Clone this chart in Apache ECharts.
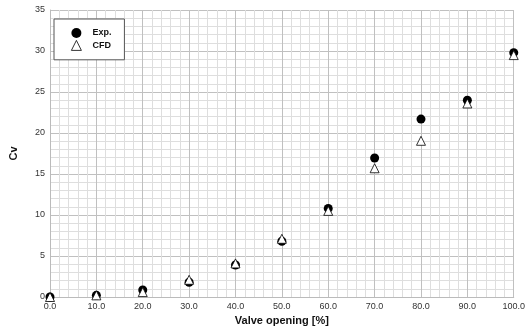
<!DOCTYPE html>
<html>
<head>
<meta charset="utf-8">
<script src="https://cdn.jsdelivr.net/npm/echarts@6/dist/echarts.min.js"></script>
<style>
  html, body { margin: 0; padding: 0; background: #fff; }
  #chart { width: 528px; height: 336px; }
</style>
</head>
<body>
<div id="chart"></div>
<script>
// Valve opening (%) against flow coefficient Cv
const openings = [0, 10, 20, 30, 40, 50, 60, 70, 80, 90, 100];
const cvExp = [0.0, 0.2, 0.85, 1.8, 3.9, 6.8, 10.8, 16.95, 21.7, 24.0, 29.8];
const cvCfd = [0.0, 0.2, 0.6, 2.1, 4.1, 7.1, 10.5, 15.7, 19.05, 23.6, 29.5];

const pairs = (xs, ys) => xs.map((x, i) => [x, ys[i]]);
const font = 'Liberation Sans, Arial, sans-serif';

const chart = echarts.init(document.getElementById('chart'));
chart.setOption({
  animation: false,
  backgroundColor: '#fff',
  grid: { left: 47, right: 12, top: 10, bottom: 39 },
  legend: {
    orient: 'vertical',
    left: 54, top: 19,
    padding: [9, 13, 9, 17],
    itemWidth: 10, itemHeight: 10, itemGap: 2,
    borderColor: '#555', borderWidth: 1,
    backgroundColor: '#fff',
    itemStyle: { borderWidth: 0.8, opacity: 1 },
    textStyle: { fontFamily: font, fontSize: 9, fontWeight: 'bold', color: '#111', padding: [0, 0, 0, 6] },
    data: ['Exp.', 'CFD']
  },
  xAxis: {
    type: 'value', min: 0, max: 100, interval: 10,
    name: 'Valve opening [%]', nameLocation: 'middle', nameGap: 16,
    nameTextStyle: { fontFamily: font, fontSize: 11, fontWeight: 'bold', color: '#111' },
    axisLine: { show: true, lineStyle: { color: '#bbb' } },
    axisTick: { show: false },
    axisLabel: { fontFamily: font, fontSize: 9, color: '#333', margin: 5, formatter: v => v.toFixed(1) },
    splitLine: { show: true, lineStyle: { color: '#c0c0c0', width: 1 } },
    minorTick: { show: false, splitNumber: 5 },
    minorSplitLine: { show: true, lineStyle: { color: '#dedede', width: 1 } }
  },
  yAxis: {
    type: 'value', min: 0, max: 35, interval: 5,
    name: 'Cv', nameLocation: 'middle', nameGap: 31, nameRotate: 90,
    nameTextStyle: { fontFamily: font, fontSize: 11, fontWeight: 'bold', color: '#111' },
    axisLine: { show: true, lineStyle: { color: '#bbb' } },
    axisTick: { show: false },
    axisLabel: { fontFamily: font, fontSize: 9, color: '#333', margin: 5 },
    splitLine: { show: true, lineStyle: { color: '#c0c0c0', width: 1 } },
    minorTick: { show: false, splitNumber: 5 },
    minorSplitLine: { show: true, lineStyle: { color: '#dedede', width: 1 } }
  },
  series: [
    {
      name: 'Exp.', type: 'scatter', symbol: 'circle', symbolSize: 9,
      itemStyle: { color: '#000', opacity: 1 },
      data: pairs(openings, cvExp)
    },
    {
      name: 'CFD', type: 'scatter', symbol: 'triangle', symbolSize: 9,
      itemStyle: { color: '#fff', borderColor: '#000', borderWidth: 0.8, opacity: 1 },
      data: pairs(openings, cvCfd)
    }
  ]
});
</script>
</body>
</html>
